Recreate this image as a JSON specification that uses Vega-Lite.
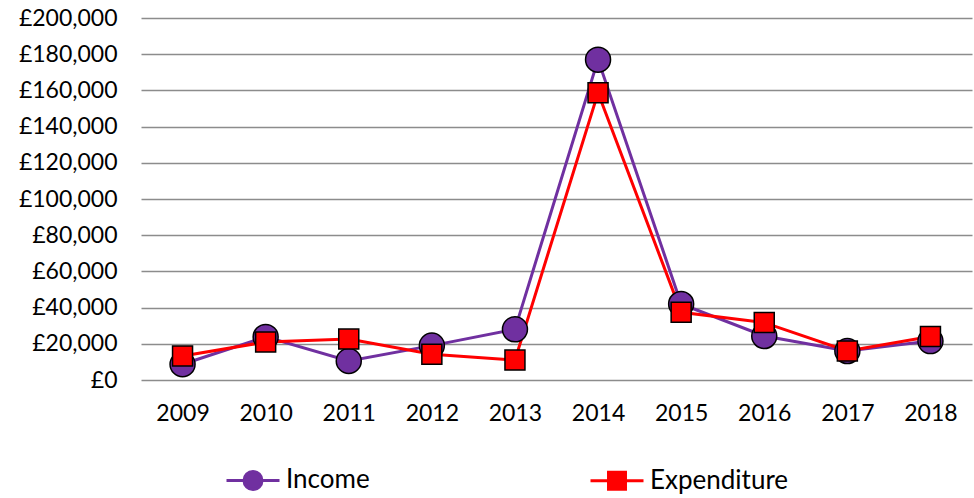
{
  "$schema": "https://vega.github.io/schema/vega-lite/v6.json",
  "width": 831,
  "height": 362,
  "autosize": {"type": "none"},
  "padding": {"left": 141, "top": 18, "right": 2, "bottom": 118},
  "background": "white",
  "config": {
    "view": {"stroke": null},
    "font": "Lato",
    "axis": {"labelFont": "Lato", "labelFontSize": 23, "labelColor": "#000000"},
    "legend": {"labelFont": "Lato", "labelFontSize": 26, "labelColor": "#000000"}
  },
  "data": {
    "values": [
      {"year": "2009", "series": "Income", "value": 8700},
      {"year": "2010", "series": "Income", "value": 23800},
      {"year": "2011", "series": "Income", "value": 10500},
      {"year": "2012", "series": "Income", "value": 19000},
      {"year": "2013", "series": "Income", "value": 28000},
      {"year": "2014", "series": "Income", "value": 177000},
      {"year": "2015", "series": "Income", "value": 42000},
      {"year": "2016", "series": "Income", "value": 24300},
      {"year": "2017", "series": "Income", "value": 16000},
      {"year": "2018", "series": "Income", "value": 21500},
      {"year": "2009", "series": "Expenditure", "value": 13300},
      {"year": "2010", "series": "Expenditure", "value": 21000},
      {"year": "2011", "series": "Expenditure", "value": 22600},
      {"year": "2012", "series": "Expenditure", "value": 14200},
      {"year": "2013", "series": "Expenditure", "value": 11000},
      {"year": "2014", "series": "Expenditure", "value": 158700},
      {"year": "2015", "series": "Expenditure", "value": 37400},
      {"year": "2016", "series": "Expenditure", "value": 31700},
      {"year": "2017", "series": "Expenditure", "value": 16000},
      {"year": "2018", "series": "Expenditure", "value": 24000}
    ]
  },
  "encoding": {
    "x": {
      "field": "year",
      "type": "ordinal",
      "scale": {"type": "point", "padding": 0.5},
      "axis": {"title": null, "labelAngle": 0, "domain": false, "ticks": false, "labelPadding": 22, "grid": false}
    },
    "y": {
      "field": "value",
      "type": "quantitative",
      "scale": {"domain": [0, 200000], "nice": false},
      "axis": {
        "title": null,
        "values": [0, 20000, 40000, 60000, 80000, 100000, 120000, 140000, 160000, 180000, 200000],
        "labelExpr": "'£' + format(datum.value, ',')",
        "domain": false,
        "ticks": false,
        "labelPadding": 24,
        "grid": true,
        "gridColor": "#8c8c8c",
        "gridWidth": 1.6
      }
    },
    "color": {
      "field": "series",
      "type": "nominal",
      "scale": {"domain": ["Income", "Expenditure"], "range": ["#7030A0", "#FF0000"]},
      "legend": {
        "title": null,
        "orient": "none",
        "direction": "horizontal",
        "legendX": 84,
        "legendY": 434,
        "symbolSize": 2809,
        "symbolStrokeWidth": 3,
        "labelOffset": 5,
        "columnPadding": 214,
        "encode": {
          "symbols": {
            "update": {
              "shape": {"signal": "datum.value === 'Income' ? 'M-1,0H-0.34M0.34,0H1M-0.34,0A0.34,0.34,0,1,0,0.34,0A0.34,0.34,0,1,0,-0.34,0Z' : 'M-1,0H-0.32M0.32,0H1M-0.32,-0.32H0.32V0.32H-0.32Z'"},
              "stroke": {"scale": "color", "field": "value"},
              "fill": {"scale": "color", "field": "value"},
              "strokeWidth": {"value": 3},
              "size": {"value": 2809},
              "opacity": {"value": 1}
            }
          }
        }
      }
    }
  },
  "layer": [
    {
      "mark": {"type": "line", "strokeWidth": 3}
    },
    {
      "mark": {"type": "point", "filled": true, "opacity": 1, "stroke": "#000000", "strokeWidth": 1.5},
      "encoding": {
        "shape": {"condition": {"test": "datum.series === 'Income'", "value": "circle"}, "value": "square"},
        "size": {"condition": {"test": "datum.series === 'Income'", "value": 625}, "value": 400}
      }
    }
  ]
}
